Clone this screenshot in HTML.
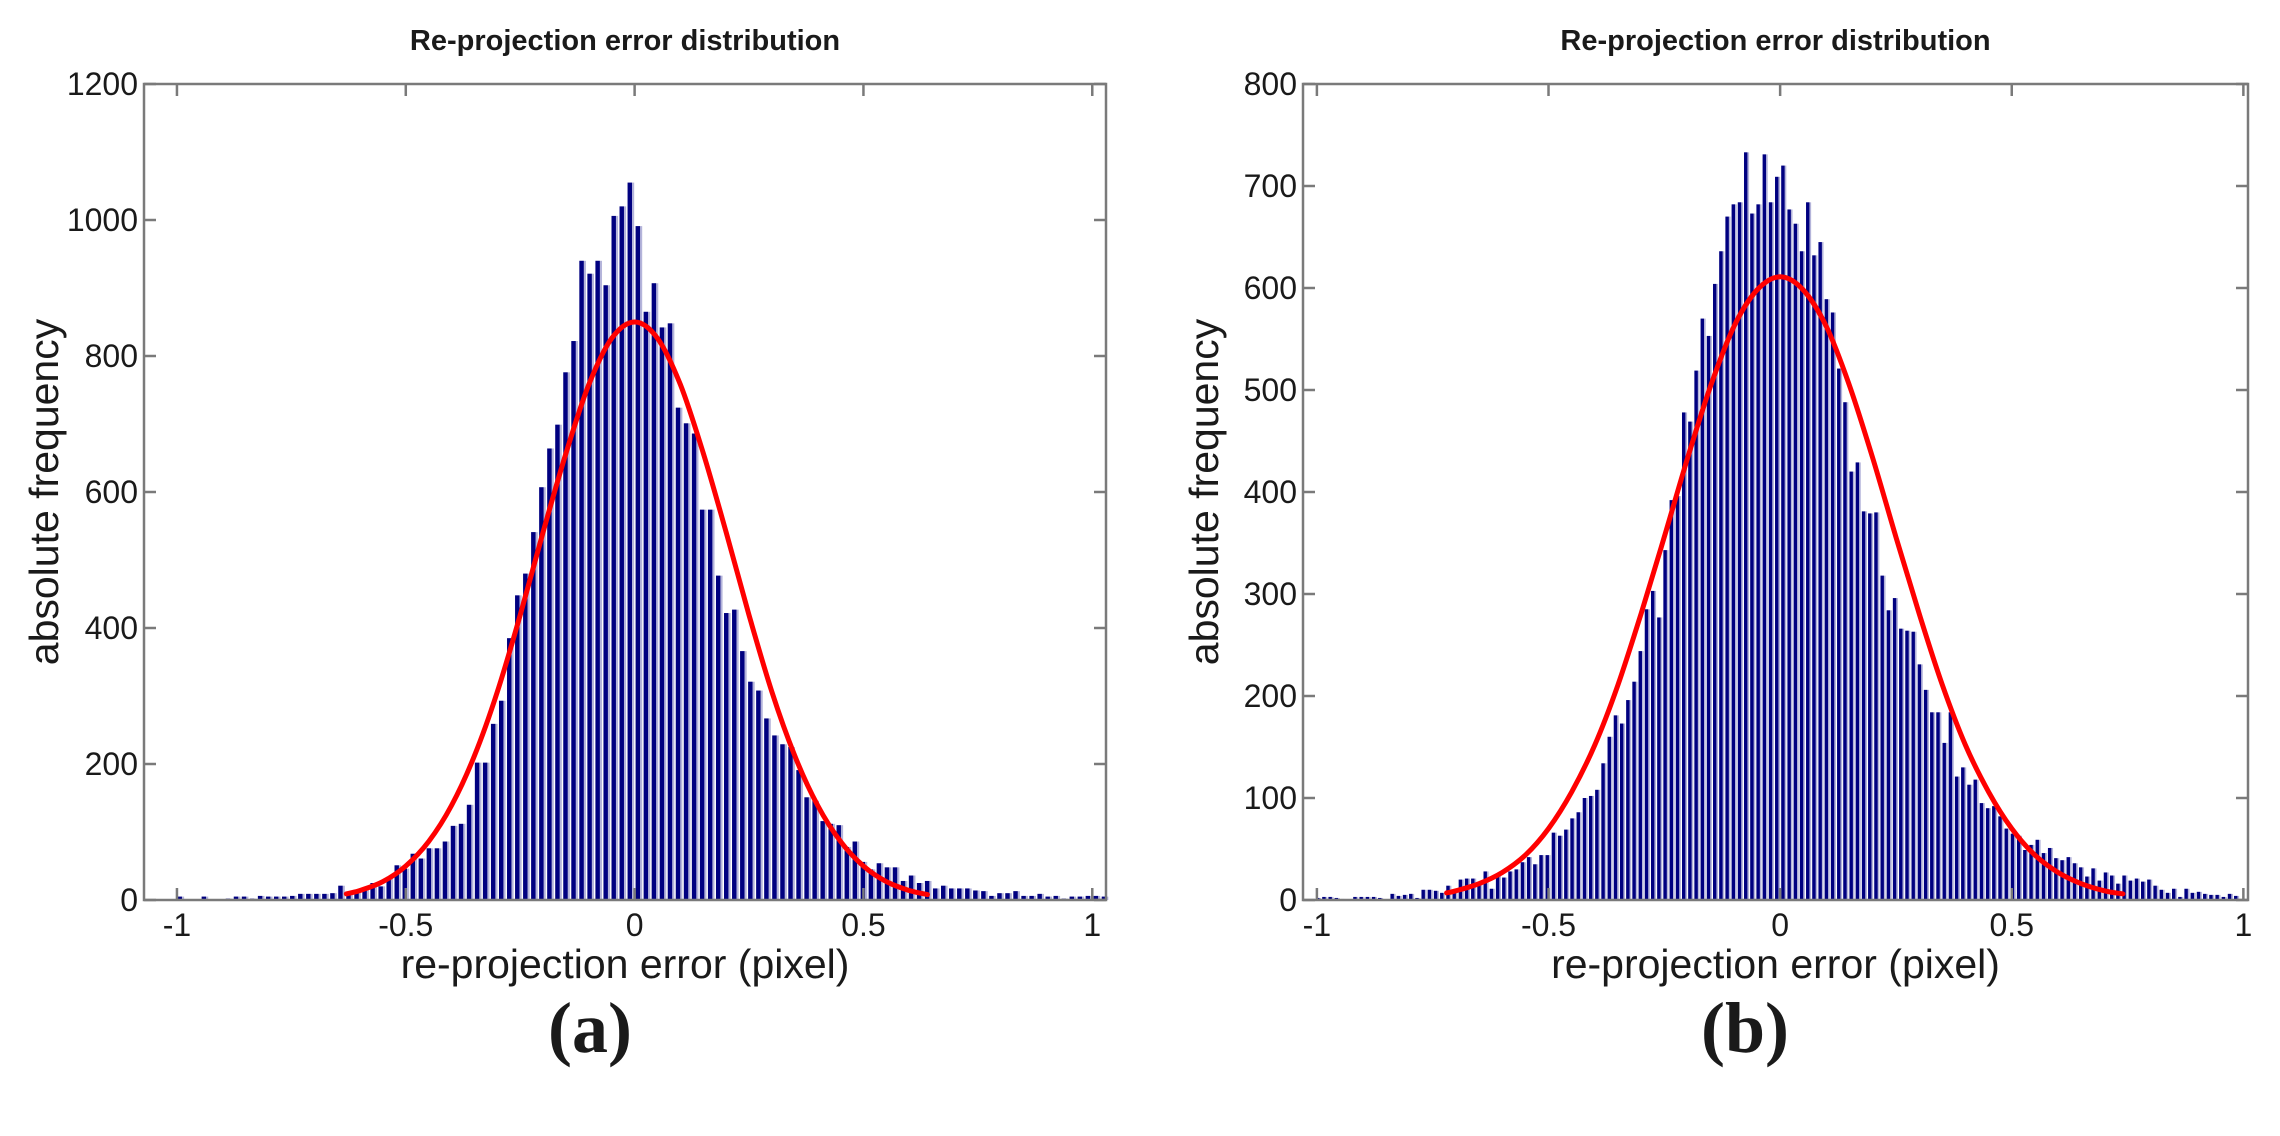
<!DOCTYPE html>
<html><head><meta charset="utf-8"><style>
html,body{margin:0;padding:0;background:#fff;}
svg{display:block;}
text{font-family:"Liberation Sans",sans-serif;fill:#1a1a1a;}
</style></head><body>
<svg id="fig" width="2280" height="1136" viewBox="0 0 2280 1136" xmlns="http://www.w3.org/2000/svg"></svg>
<script>
// ----- data: panel (a) -----
const binsA = [];
for (let i = -58; i <= 59; i++) binsA.push(i);
const countsA = [0,0,5,1,0,5,0,1,2,5,5,2,6,5,5,5,6,9,9,9,9,10,21,12,14,17,25,20,34,51,46,68,61,76,76,86,109,112,140,202,202,259,293,385,448,480,541,607,664,699,776,822,940,921,940,904,1006,1020,1055,991,865,907,842,848,724,701,686,574,574,477,422,427,366,321,308,267,242,229,225,191,151,146,116,112,110,78,86,56,45,54,48,48,28,36,25,28,17,21,17,17,17,14,13,6,10,10,13,6,6,9,5,6,2,5,5,6,6,5];
const fitXA = [-0.63,-0.6,-0.55,-0.5,-0.45,-0.4,-0.35,-0.3,-0.25,-0.2,-0.15,-0.1,-0.05,0,0.05,0.1,0.15,0.2,0.25,0.3,0.35,0.4,0.45,0.5,0.55,0.6,0.64];
const fitYA = [9,14,27,50,86,139,212,306,419,541,657,758,826,850,826,758,657,541,419,306,212,139,86,50,27,14,8];
const yTicksA = [0,200,400,600,800,1000,1200];
// ----- data: panel (b) -----
const binsB = [];
for (let i = -75; i <= 73; i++) binsB.push(i);
const countsB = [2,3,3,2,1,0,3,3,3,3,2,0,6,4,5,6,2,10,10,9,7,14,7,20,21,21,16,28,11,24,22,28,30,37,42,35,44,44,66,63,69,80,86,100,102,108,134,160,181,173,196,214,244,285,303,277,343,392,396,478,469,519,570,553,604,636,670,682,684,733,673,682,731,684,709,720,677,663,636,684,632,645,589,576,521,488,420,429,381,379,380,318,284,296,266,264,263,231,206,184,184,154,184,121,130,113,118,95,90,92,82,70,65,63,49,54,59,46,51,41,39,42,36,32,23,31,19,27,24,16,24,19,21,18,20,14,10,7,11,3,11,7,8,6,5,5,3,6,4];
const fitXB = [-0.72,-0.7,-0.65,-0.6,-0.55,-0.5,-0.45,-0.4,-0.35,-0.3,-0.25,-0.2,-0.15,-0.1,-0.05,0,0.05,0.1,0.15,0.2,0.25,0.3,0.35,0.4,0.45,0.5,0.55,0.6,0.65,0.7,0.74];
const fitYB = [7,9,16,27,44,70,106,152,211,281,356,433,504,562,598,611,598,562,504,433,356,281,211,152,106,70,44,27,16,9,6];
const yTicksB = [0,100,200,300,400,500,600,700,800];
const xTicks = [-1,-0.5,0,0.5,1];
const xTickLabels = ["-1","-0.5","0","0.5","1"];

const NS = "http://www.w3.org/2000/svg";
const svg = document.getElementById('fig');
function mk(tag, attrs, parent){
  const e = document.createElementNS(NS, tag);
  for (const k in attrs) e.setAttribute(k, attrs[k]);
  (parent || svg).appendChild(e);
  return e;
}

function smoothPath(pts){
  let d = 'M' + pts[0][0].toFixed(1) + ' ' + pts[0][1].toFixed(1);
  for (let i = 0; i < pts.length - 1; i++){
    const p0 = pts[Math.max(0, i-1)], p1 = pts[i], p2 = pts[i+1], p3 = pts[Math.min(pts.length-1, i+2)];
    const c1x = p1[0] + (p2[0]-p0[0])/6, c1y = p1[1] + (p2[1]-p0[1])/6;
    const c2x = p2[0] - (p3[0]-p1[0])/6, c2y = p2[1] - (p3[1]-p1[1])/6;
    d += 'C' + c1x.toFixed(1) + ' ' + c1y.toFixed(1) + ' ' + c2x.toFixed(1) + ' ' + c2y.toFixed(1) + ' ' + p2[0].toFixed(1) + ' ' + p2[1].toFixed(1);
  }
  return d;
}

function panel(cfg){
  const g = mk('g', {});
  
  
  const xs = v => cfg.L + (v - cfg.x0) / (cfg.x1 - cfg.x0) * (cfg.R - cfg.L);
  const ys = v => cfg.B - v / cfg.ymax * (cfg.B - cfg.T);
  const bw = cfg.binW / (cfg.x1 - cfg.x0) * (cfg.R - cfg.L);
  cfg.bins.forEach((b, i) => {
    const v = cfg.counts[i];
    if (v <= 0) return;
    const cx = xs(cfg.off + b * cfg.binW);
    const y = ys(v);
    const light = mk('rect', {x: cx - bw*0.42, y: y, width: bw*0.82, height: cfg.B - y, fill: '#b4b4da'}, g);
    
    
    const r = mk('rect', {x: cx - bw*0.42, y: y, width: bw*0.55, height: cfg.B - y, fill: '#000080'}, g);
    
    
  });
  const pts = cfg.fitX.map((x, i) => [xs(x), ys(cfg.fitY[i])]);
  const p = mk('path', {d: smoothPath(pts), fill: 'none', stroke: '#ff0000', 'stroke-width': 5, 'stroke-linejoin': 'round', 'stroke-linecap': 'round'}, g);
  
  
  const box = mk('rect', {x: cfg.L, y: cfg.T, width: cfg.R - cfg.L, height: cfg.B - cfg.T, fill: 'none', stroke: '#7a7a7a', 'stroke-width': 2.5}, g);
  
  
  cfg.yTicks.forEach(t => {
    const y = ys(t);
    mk('line', {x1: cfg.L, x2: cfg.L + 12, y1: y, y2: y, stroke: '#7a7a7a', 'stroke-width': 2.5}, g);
    mk('line', {x1: cfg.R, x2: cfg.R - 12, y1: y, y2: y, stroke: '#7a7a7a', 'stroke-width': 2.5}, g);
    const tx = mk('text', {x: cfg.L - 6, y: y + 11, 'text-anchor': 'end', 'font-size': 32}, g);
    tx.textContent = String(t);
    
    
  });
  xTicks.forEach((t, i) => {
    const x = xs(t);
    mk('line', {x1: x, x2: x, y1: cfg.B, y2: cfg.B - 12, stroke: '#7a7a7a', 'stroke-width': 2.5}, g);
    mk('line', {x1: x, x2: x, y1: cfg.T, y2: cfg.T + 12, stroke: '#7a7a7a', 'stroke-width': 2.5}, g);
    const tx = mk('text', {x: x, y: cfg.B + 36, 'text-anchor': 'middle', 'font-size': 32}, g);
    tx.textContent = xTickLabels[i];
    
    
  });
  const ti = mk('text', {x: (cfg.L + cfg.R) / 2, y: 50, 'text-anchor': 'middle', 'font-size': 29, 'font-weight': 'bold'}, g);
  ti.textContent = 'Re-projection error distribution';
  
  
  const xl = mk('text', {x: (cfg.L + cfg.R) / 2, y: 978, 'text-anchor': 'middle', 'font-size': 41}, g);
  xl.textContent = 're-projection error (pixel)';
  
  
  const yl = mk('text', {x: 0, y: 0, 'text-anchor': 'middle', 'font-size': 41, transform: 'translate(' + cfg.yLabX + ',' + ((cfg.T + cfg.B) / 2) + ') rotate(-90)'}, g);
  yl.textContent = 'absolute frequency';
  
  
  const pl = mk('text', {x: cfg.letterX, y: 1052, 'text-anchor': 'middle', 'font-size': 72, 'font-weight': 'bold', style: 'font-family:"Liberation Serif",serif'}, g);
  pl.textContent = cfg.letter;
  
  
}

panel({name: 'panel-a-chart', L: 144, R: 1106, T: 84, B: 900, x0: -1.072, x1: 1.03, ymax: 1200,
  bins: binsA, counts: countsA, binW: 0.01756, off: -0.008, fitX: fitXA, fitY: fitYA,
  yTicks: yTicksA, yLabX: 58, letterX: 590, letter: '(a)'});
panel({name: 'panel-b-chart', L: 1303, R: 2248, T: 84, B: 900, x0: -1.03, x1: 1.01, ymax: 800,
  bins: binsB, counts: countsB, binW: 0.01339, off: 0.008, fitX: fitXB, fitY: fitYB,
  yTicks: yTicksB, yLabX: 1218, letterX: 1745, letter: '(b)'});
</script>
</body></html>
